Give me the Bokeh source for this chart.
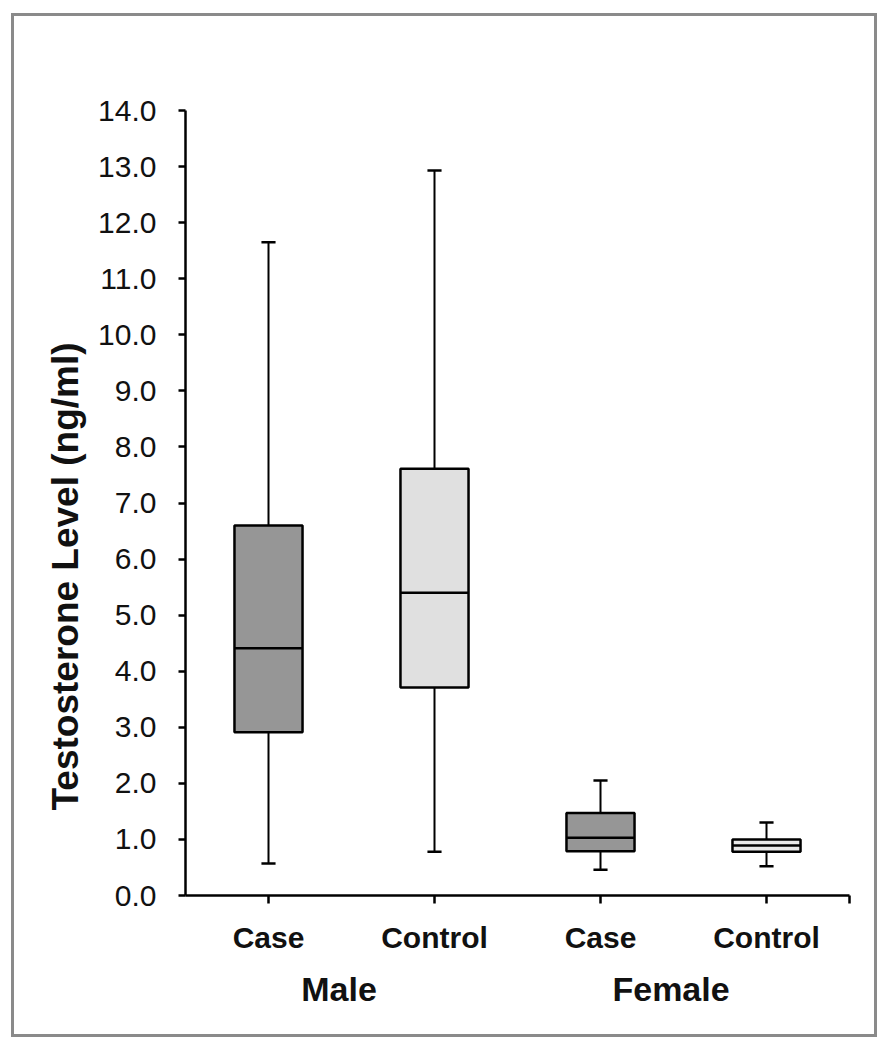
from bokeh.plotting import figure
from bokeh.models import FixedTicker, PrintfTickFormatter, Range1d, ColumnDataSource, LinearAxis, Title
from bokeh.embed import file_html
from bokeh.resources import INLINE

# ---- data ----
sexes = ["Male", "Male", "Female", "Female"]
groups = ["Case", "Control", "Case", "Control"]
whisker_low = [0.57, 0.78, 0.46, 0.52]
q1 = [2.91, 3.71, 0.79, 0.78]
median = [4.41, 5.40, 1.03, 0.89]
q3 = [6.60, 7.61, 1.47, 1.00]
whisker_high = [11.65, 12.93, 2.05, 1.30]
box_colors = ["#969696", "#e0e0e0", "#969696", "#e9e9e9"]
y_ticks = list(range(0, 15))
sex_order = ["Male", "Female"]
y_title = "Testosterone Level  (ng/ml)"

FONT = "Liberation Sans"
BOX_W = 0.41
CAP_W = 0.085

x = [i + 0.5 for i in range(len(groups))]
half = BOX_W / 2
cap = CAP_W / 2

src = ColumnDataSource(dict(
    x=x, q1=q1, q3=q3, med=median, lo=whisker_low, hi=whisker_high, color=box_colors,
    bx0=[v - half for v in x], bx1=[v + half for v in x],
    cx0=[v - cap for v in x], cx1=[v + cap for v in x],
))

p = figure(width=866, height=1024, output_backend="svg", toolbar_location=None,
           x_range=Range1d(0, len(groups)), y_range=Range1d(y_ticks[0], y_ticks[-1]),
           min_border_left=171, min_border_right=31, min_border_top=94, min_border_bottom=145)
p.styles = {"border": "3px solid #8a8a8a", "margin": "13px 0 0 11px"}
p.grid.visible = False
p.outline_line_color = None
p.background_fill_color = "white"
p.border_fill_color = "white"

# whiskers
p.segment(x0="x", x1="x", y0="q3", y1="hi", source=src, line_color="black", line_width=2)
p.segment(x0="x", x1="x", y0="lo", y1="q1", source=src, line_color="black", line_width=2)
p.segment(x0="cx0", x1="cx1", y0="hi", y1="hi", source=src, line_color="black", line_width=2.5)
p.segment(x0="cx0", x1="cx1", y0="lo", y1="lo", source=src, line_color="black", line_width=2.5)
# boxes
p.vbar(x="x", width=BOX_W, bottom="q1", top="q3", source=src, fill_color="color",
       line_color="black", line_width=2.5)
p.segment(x0="bx0", x1="bx1", y0="med", y1="med", source=src, line_color="black", line_width=2.5)

# y axis
ya = p.yaxis[0]
ya.ticker = FixedTicker(ticks=y_ticks)
ya.formatter = PrintfTickFormatter(format="%.1f")
ya.minor_tick_line_color = None
ya.major_tick_in = 0
ya.major_tick_out = 7
ya.major_tick_line_width = 2.5
ya.axis_line_width = 2.5
ya.axis_line_color = "black"
ya.major_tick_line_color = "black"
ya.major_label_text_font = FONT
ya.major_label_text_font_size = "30px"
ya.major_label_text_color = "#111111"
ya.major_label_standoff = 22

# x axis (categories)
xa = p.xaxis[0]
xticks = x + [float(len(groups))]
xa.ticker = FixedTicker(ticks=xticks)
overrides = {v: g for v, g in zip(x, groups)}
overrides[float(len(groups))] = ""
xa.major_label_overrides = overrides
xa.minor_tick_line_color = None
xa.major_tick_in = 0
xa.major_tick_out = 8
xa.major_tick_line_width = 2.5
xa.axis_line_width = 2.5
xa.axis_line_color = "black"
xa.major_tick_line_color = "black"
xa.major_label_text_font = FONT
xa.major_label_text_font_size = "30px"
xa.major_label_text_font_style = "bold"
xa.major_label_text_color = "#111111"
xa.major_label_standoff = 17

# group axis (Male / Female), slightly shifted range to mimic the reference placement
p.extra_x_ranges = {"grp": Range1d(0.075, len(groups) + 0.075)}
group_centers = []
for s in sex_order:
    xs = [xi for xi, si in zip(x, sexes) if si == s]
    group_centers.append(sum(xs) / len(xs))
ga = LinearAxis(x_range_name="grp", ticker=FixedTicker(ticks=group_centers),
                major_label_overrides={c: s for c, s in zip(group_centers, sex_order)})
ga.axis_line_color = None
ga.major_tick_line_color = None
ga.minor_tick_line_color = None
ga.major_label_text_font = FONT
ga.major_label_text_font_size = "34px"
ga.major_label_text_font_style = "bold"
ga.major_label_text_color = "#111111"
ga.major_label_standoff = 7
p.add_layout(ga, "below")

# y axis title (offset along the axis as in the reference)
p.add_layout(Title(text=y_title, align="left", offset=85, standoff=20,
                   text_font=FONT, text_font_size="37px", text_font_style="bold",
                   text_color="#111111"), "left")

open("out.html", "w").write(file_html(p, INLINE))
